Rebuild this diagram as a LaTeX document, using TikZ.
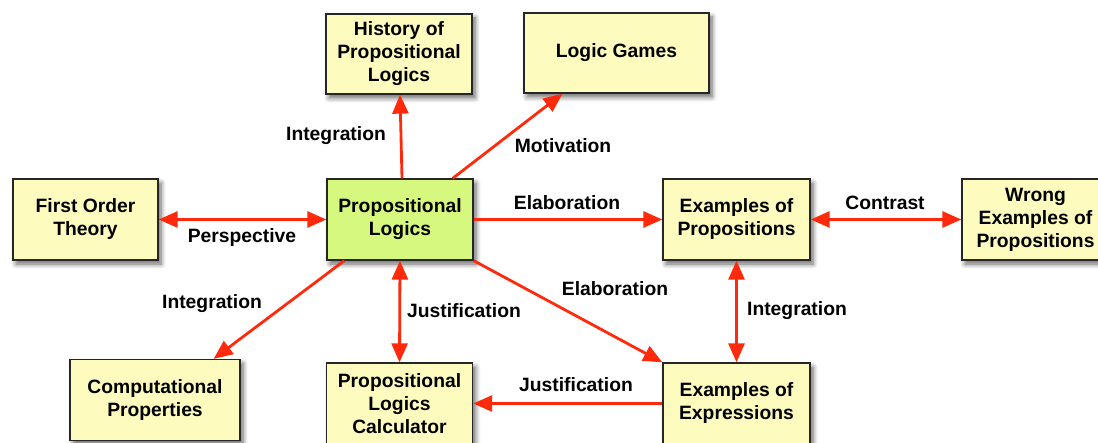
\documentclass[tikz,border=0pt]{standalone}
\usepackage{fontspec}
\setmainfont{Liberation Sans}
\usetikzlibrary{arrows.meta,shadows.blur}
\definecolor{boxfill}{RGB}{253,251,190}
\definecolor{centerfill}{RGB}{214,248,126}
\definecolor{arrowred}{RGB}{255,42,12}
\tikzset{
  concept/.style={draw=black!85, line width=1.3pt, fill=boxfill, align=center,
    font=\fontsize{19.3}{23}\selectfont\bfseries, inner sep=2pt,
    blur shadow={shadow xshift=3pt, shadow yshift=-4pt, shadow blur steps=6, shadow opacity=60, shadow blur radius=5pt}},
  link/.style={draw=arrowred, line width=2.8pt, -{Triangle[length=19pt,width=16pt]}},
  dlink/.style={draw=arrowred, line width=2.8pt, {Triangle[length=19pt,width=16pt]}-{Triangle[length=19pt,width=16pt]}},
  lbl/.style={font=\fontsize{19.3}{23}\selectfont\bfseries, inner sep=0pt}
}
\begin{document}
\begin{tikzpicture}[x=1pt,y=-1pt]
\useasboundingbox (0,0) rectangle (1098,443);
\node[concept, minimum width=146pt, minimum height=80pt] (hist) at (399,54) {History of\\Propositional\\Logics};
\node[concept, minimum width=185pt, minimum height=80pt] (games) at (616.5,53) {Logic Games};
\node[concept, minimum width=145pt, minimum height=81pt] (first) at (85.5,219.5) {First Order\\Theory};
\node[concept, fill=centerfill, minimum width=146pt, minimum height=81pt] (prop) at (400,219.5) {Propositional\\Logics};
\node[concept, minimum width=147pt, minimum height=81pt] (exprop) at (736.5,219.5) {Examples of\\Propositions};
\node[concept, minimum width=147pt, minimum height=81pt] (wrong) at (1035.5,219.5) {Wrong\\Examples of\\Propositions};
\node[concept, minimum width=170pt, minimum height=81pt] (comp) at (155,400) {Computational\\Properties};
\node[concept, minimum width=146pt, minimum height=81pt] (calc) at (399.5,403.5) {Propositional\\Logics\\Calculator};
\node[concept, minimum width=147pt, minimum height=81pt] (exexp) at (736.5,403.5) {Examples of\\Expressions};

\draw[link] ([xshift=2pt]prop.north) -- ([xshift=1pt]hist.south);
\draw[link] ([xshift=-21pt]prop.north east) -- ([xshift=-54pt]games.south);
\draw[dlink] (first.east) -- (prop.west);
\draw[link] (prop.east) -- (exprop.west);
\draw[dlink] (exprop.east) -- (wrong.west);
\draw[link] ([xshift=18pt]prop.south west) -- ([xshift=-27pt]comp.north east);
\draw[dlink] (prop.south) -- (calc.north);
\draw[link] (prop.south east) -- (exexp.north west);
\draw[dlink] (exprop.south) -- (exexp.north);
\draw[link] (exexp.west) -- (calc.east);

\node[lbl] (l1) at (336,136) {Integration};
\node[lbl] (l2) at (563,146) {Motivation};
\node[lbl] (l3) at (242,238) {Perspective};
\node[lbl] (l4) at (567,203) {Elaboration};
\node[lbl] (l5) at (885,203) {Contrast};
\node[lbl] (l6) at (212,304) {Integration};
\node[lbl] (l7) at (464,311) {Justification};
\node[lbl] (l8) at (615,289) {Elaboration};
\node[lbl] (l9) at (797,311) {Integration};
\node[lbl] (l10) at (576,385) {Justification};
\end{tikzpicture}
\end{document}
